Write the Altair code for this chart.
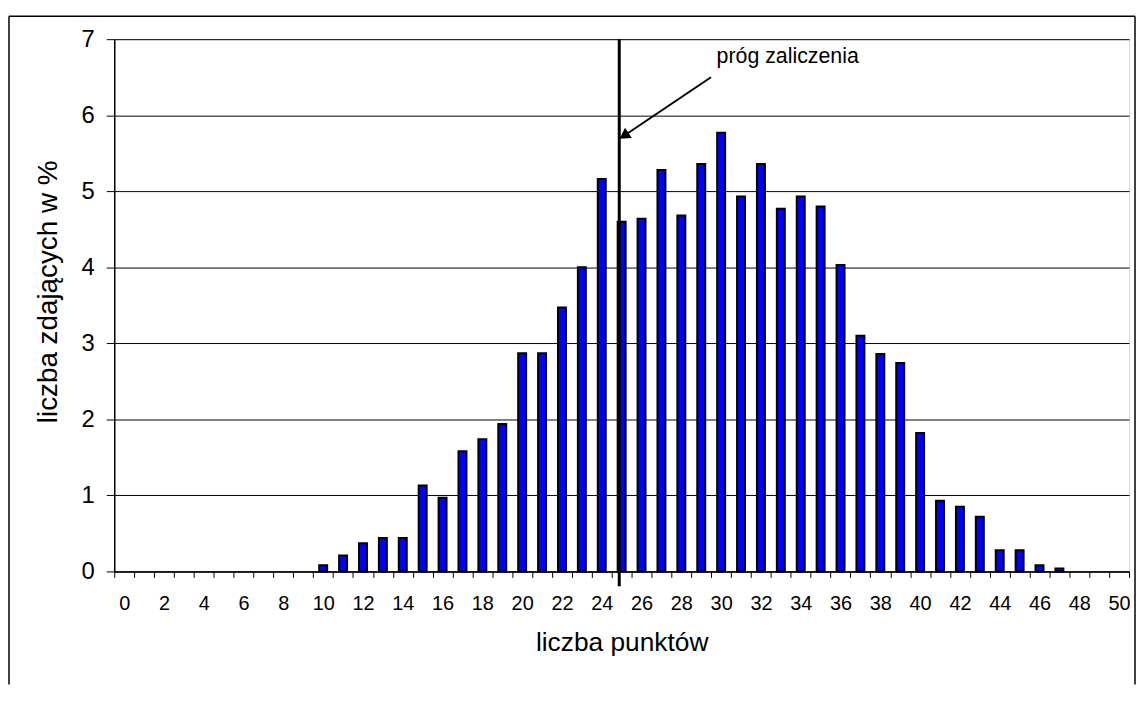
import altair as alt
import pandas as pd

# ---- data ----
points = list(range(0, 51))
percent = [0, 0, 0, 0, 0, 0, 0, 0, 0, 0,
           0.08, 0.21, 0.37, 0.44, 0.44, 1.13, 0.97, 1.58, 1.74, 1.94,
           2.87, 2.87, 3.47, 4.00, 5.16, 4.60, 4.64, 5.28, 4.68, 5.36,
           5.77, 4.93, 5.36, 4.77, 4.93, 4.80, 4.03, 3.10, 2.86, 2.74,
           1.82, 0.93, 0.85, 0.72, 0.28, 0.28, 0.08, 0.04, 0, 0, 0]
y_ticks = [0, 1, 2, 3, 4, 5, 6, 7]

threshold_x = [24.88]                     # passing threshold line (axis units)
arrow_from = [29.49, 6.50]                # arrow start (x, y)
arrow_to = [25.12, 5.73]                  # arrow head centre (x, y)
arrow_angle = [236.3]
label_pos = [29.77, 6.69]
label_text = ["próg zaliczenia"]

FONT = "Liberation Sans"
W, H = 1022, 536

df = pd.DataFrame({"pkt": points, "pct": percent})

xcat = alt.X(
    "pkt:O",
    scale=alt.Scale(domain=points, paddingInner=0, paddingOuter=0),
    axis=alt.Axis(
        title="liczba punktów",
        labelExpr="datum.value % 2 == 0 ? datum.label : ''",
        labelAngle=0,
        labelOverlap=False,
        tickBand="extent",
        tickSize=6,
        tickColor="black",
        domainColor="black",
        domainWidth=1.5,
        labelFont=FONT,
        labelFontSize=20,
        labelColor="black",
        labelBaseline="alphabetic",
        labelPadding=32,
        titleFont=FONT,
        titleFontSize=26.5,
        titleFontWeight="normal",
        titleColor="black",
        titleBaseline="alphabetic",
        titleY=80,
    ),
)

yaxis = alt.Axis(
    title="liczba zdających w %",
    values=y_ticks,
    grid=True,
    gridColor="black",
    gridWidth=1,
    tickSize=8,
    tickColor="black",
    domainColor="black",
    domainWidth=1.5,
    labelFont=FONT,
    labelFontSize=24,
    labelColor="black",
    labelPadding=12,
    titleFont=FONT,
    titleFontSize=28,
    titleFontWeight="normal",
    titleColor="black",
    titleBaseline="middle",
    titleX=-66,
    titleY=254,
)
yscale = alt.Scale(domain=[0, 7], nice=False)

bars = alt.Chart(df).transform_filter("datum.pct > 0").mark_bar(
    color="#0000FF", stroke="black", strokeWidth=2,
    width=alt.RelativeBandSize(0.4),
).encode(x=xcat, y=alt.Y("pct:Q", scale=yscale, axis=yaxis))

xq = alt.Scale(domain=[-0.5, 50.5], nice=False, zero=False)

thr = alt.Chart(pd.DataFrame({"t": threshold_x})).mark_rule(
    color="black", strokeWidth=3, clip=False
).encode(
    x=alt.X("t:Q", scale=xq, axis=None),
    y=alt.value(0),
    y2=alt.value(H + 15),
)

arr_df = pd.DataFrame({"x": [arrow_from[0]], "y": [arrow_from[1]],
                       "x2": [arrow_to[0]], "y2": [arrow_to[1]]})
arrow_line = alt.Chart(arr_df).mark_rule(color="black", strokeWidth=2).encode(
    x=alt.X("x:Q", scale=xq, axis=None),
    y=alt.Y("y:Q", scale=yscale, axis=yaxis),
    x2="x2:Q",
    y2="y2:Q",
)

head_df = pd.DataFrame({"x": [arrow_to[0]], "y": [arrow_to[1]], "a": arrow_angle})
arrow_head = alt.Chart(head_df).mark_point(
    shape="triangle-up", filled=True, color="black", size=150, opacity=1
).encode(
    x=alt.X("x:Q", scale=xq, axis=None),
    y=alt.Y("y:Q", scale=yscale, axis=yaxis),
    angle=alt.Angle("a:Q", scale=None),
)

lab_df = pd.DataFrame({"x": [label_pos[0]], "y": [label_pos[1]], "t": label_text})
label = alt.Chart(lab_df).mark_text(
    align="left", baseline="alphabetic", font=FONT, fontSize=21.5, color="black"
).encode(
    x=alt.X("x:Q", scale=xq, axis=None),
    y=alt.Y("y:Q", scale=yscale, axis=yaxis),
    text="t:N",
)

# outer frame of the figure (open at the bottom as in the reference)
frame_df = pd.DataFrame({"k": [0]})
frame_top = alt.Chart(frame_df).mark_rule(color="black", strokeWidth=1.5, clip=False).encode(
    x=alt.value(-106), x2=alt.value(1028), y=alt.value(-23))
frame_left = alt.Chart(frame_df).mark_rule(color="black", strokeWidth=1.5, clip=False).encode(
    x=alt.value(-106), y=alt.value(-23), y2=alt.value(650))
frame_right = alt.Chart(frame_df).mark_rule(color="black", strokeWidth=1.5, clip=False).encode(
    x=alt.value(1028), y=alt.value(-23), y2=alt.value(650))

chart = alt.layer(
    bars, thr, arrow_line, arrow_head, label, frame_top, frame_left, frame_right
).resolve_scale(x="independent").properties(
    width=W, height=H,
    padding={"left": 0, "top": 5, "right": 0, "bottom": 0},
).configure_view(stroke="#808080", strokeWidth=1).configure(background="white")

chart.save("out.html", embed_options={"renderer": "svg", "actions": False})
